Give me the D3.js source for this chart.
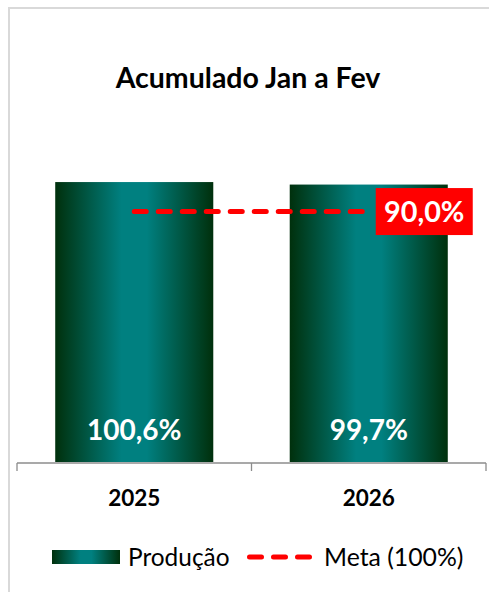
<!DOCTYPE html>
<html><head><meta charset="utf-8">
<script src="https://cdn.jsdelivr.net/npm/d3@7/dist/d3.min.js"></script>
<style>body{margin:0;background:#fff}svg{display:block}text{font-family:Lato,"Open Sans",sans-serif}</style>
</head><body><svg id="c" width="489" height="592"></svg>
<script>
const title = "Acumulado Jan a Fev";
const categories = ["2025", "2026"];
const producao = [100.6, 99.7];
const meta = [90.0, 90.0];
const seriesNames = ["Produção", "Meta (100%)"];
const fmt = v => d3.format(".1f")(v).replace(".", ",") + "%";

const svg = d3.select("#c");
const defs = svg.append("defs");
const grad = defs.append("linearGradient").attr("id", "g").attr("x1", "0%").attr("x2", "100%").attr("y1", "0%").attr("y2", "0%");
[[0, "#00300c"], [0.42, "#008080"], [0.58, "#008080"], [1, "#00300c"]].forEach(([o, c]) =>
  grad.append("stop").attr("offset", o).attr("stop-color", c));

// frame
svg.append("path").attr("d", "M9,592 V8 H489").attr("fill", "none").attr("stroke", "#d9d9d9").attr("stroke-width", 2);

svg.append("text").attr("x", 248).attr("y", 88).attr("text-anchor", "middle")
  .attr("font-weight", "bold").attr("font-size", 28.5).text(title);

const x = d3.scaleBand().domain(categories).range([17, 486]).paddingInner(0.326).paddingOuter(0.163);
const y = d3.scaleLinear().domain([0, 110]).range([462, 155.9]);

svg.selectAll("rect.bar").data(categories).join("rect").attr("class", "bar")
  .attr("x", d => x(d)).attr("width", x.bandwidth())
  .attr("y", (d, i) => y(producao[i])).attr("height", (d, i) => y(0) - y(producao[i]))
  .attr("fill", "url(#g)");

svg.selectAll("text.vl").data(categories).join("text").attr("class", "vl")
  .attr("x", d => x(d) + x.bandwidth() / 2).attr("y", 440).attr("text-anchor", "middle")
  .attr("fill", "#fff").attr("font-weight", "bold").attr("font-size", 28).text((d, i) => fmt(producao[i]));

// axis
const ax = svg.append("g").attr("stroke", "#8c8c8c").attr("stroke-width", 1.3);
const r = x.range();
ax.append("line").attr("x1", r[0]).attr("x2", r[1]).attr("y1", y(0) + 1).attr("y2", y(0) + 1);
const bounds = [r[0], (x(categories[0]) + x.bandwidth() + x(categories[1])) / 2, r[1]];
ax.selectAll("line.t").data(bounds).join("line").attr("class", "t")
  .attr("x1", d => d).attr("x2", d => d).attr("y1", y(0) + 1).attr("y2", y(0) + 9);

svg.selectAll("text.cat").data(categories).join("text").attr("class", "cat")
  .attr("x", d => x(d) + x.bandwidth() / 2).attr("y", 506).attr("text-anchor", "middle")
  .attr("font-weight", "bold").attr("font-size", 22.5).attr("fill", "#000").text(d => d);

// meta line
const line = d3.line().x((d, i) => x(categories[i]) + x.bandwidth() / 2).y(d => y(d));
svg.append("path").attr("d", line(meta)).attr("fill", "none").attr("stroke", "#ff0000")
  .attr("stroke-width", 5).attr("stroke-linecap", "round").attr("stroke-dasharray", "12,12");

const lx = x(categories[1]) + x.bandwidth() / 2 + 7;
svg.append("rect").attr("x", lx).attr("y", y(meta[1]) - 23.5).attr("width", 97).attr("height", 47).attr("fill", "#ff0000");
svg.append("text").attr("x", lx + 48.5).attr("y", y(meta[1]) + 10.5).attr("text-anchor", "middle")
  .attr("fill", "#fff").attr("font-weight", "bold").attr("font-size", 28.8).text(fmt(meta[1]));

// legend
const lg = svg.append("g");
lg.append("rect").attr("x", 52).attr("y", 550).attr("width", 68).attr("height", 14).attr("fill", "url(#g)");
lg.append("text").attr("x", 128).attr("y", 566).attr("font-size", 24.4).attr("fill", "#000").text(seriesNames[0]);
lg.append("line").attr("x1", 249.5).attr("x2", 310).attr("y1", 557).attr("y2", 557)
  .attr("stroke", "#ff0000").attr("stroke-width", 5).attr("stroke-linecap", "round").attr("stroke-dasharray", "12,12");
lg.append("text").attr("x", 324).attr("y", 566).attr("font-size", 24.8).attr("fill", "#000").text(seriesNames[1]);
</script></body></html>
